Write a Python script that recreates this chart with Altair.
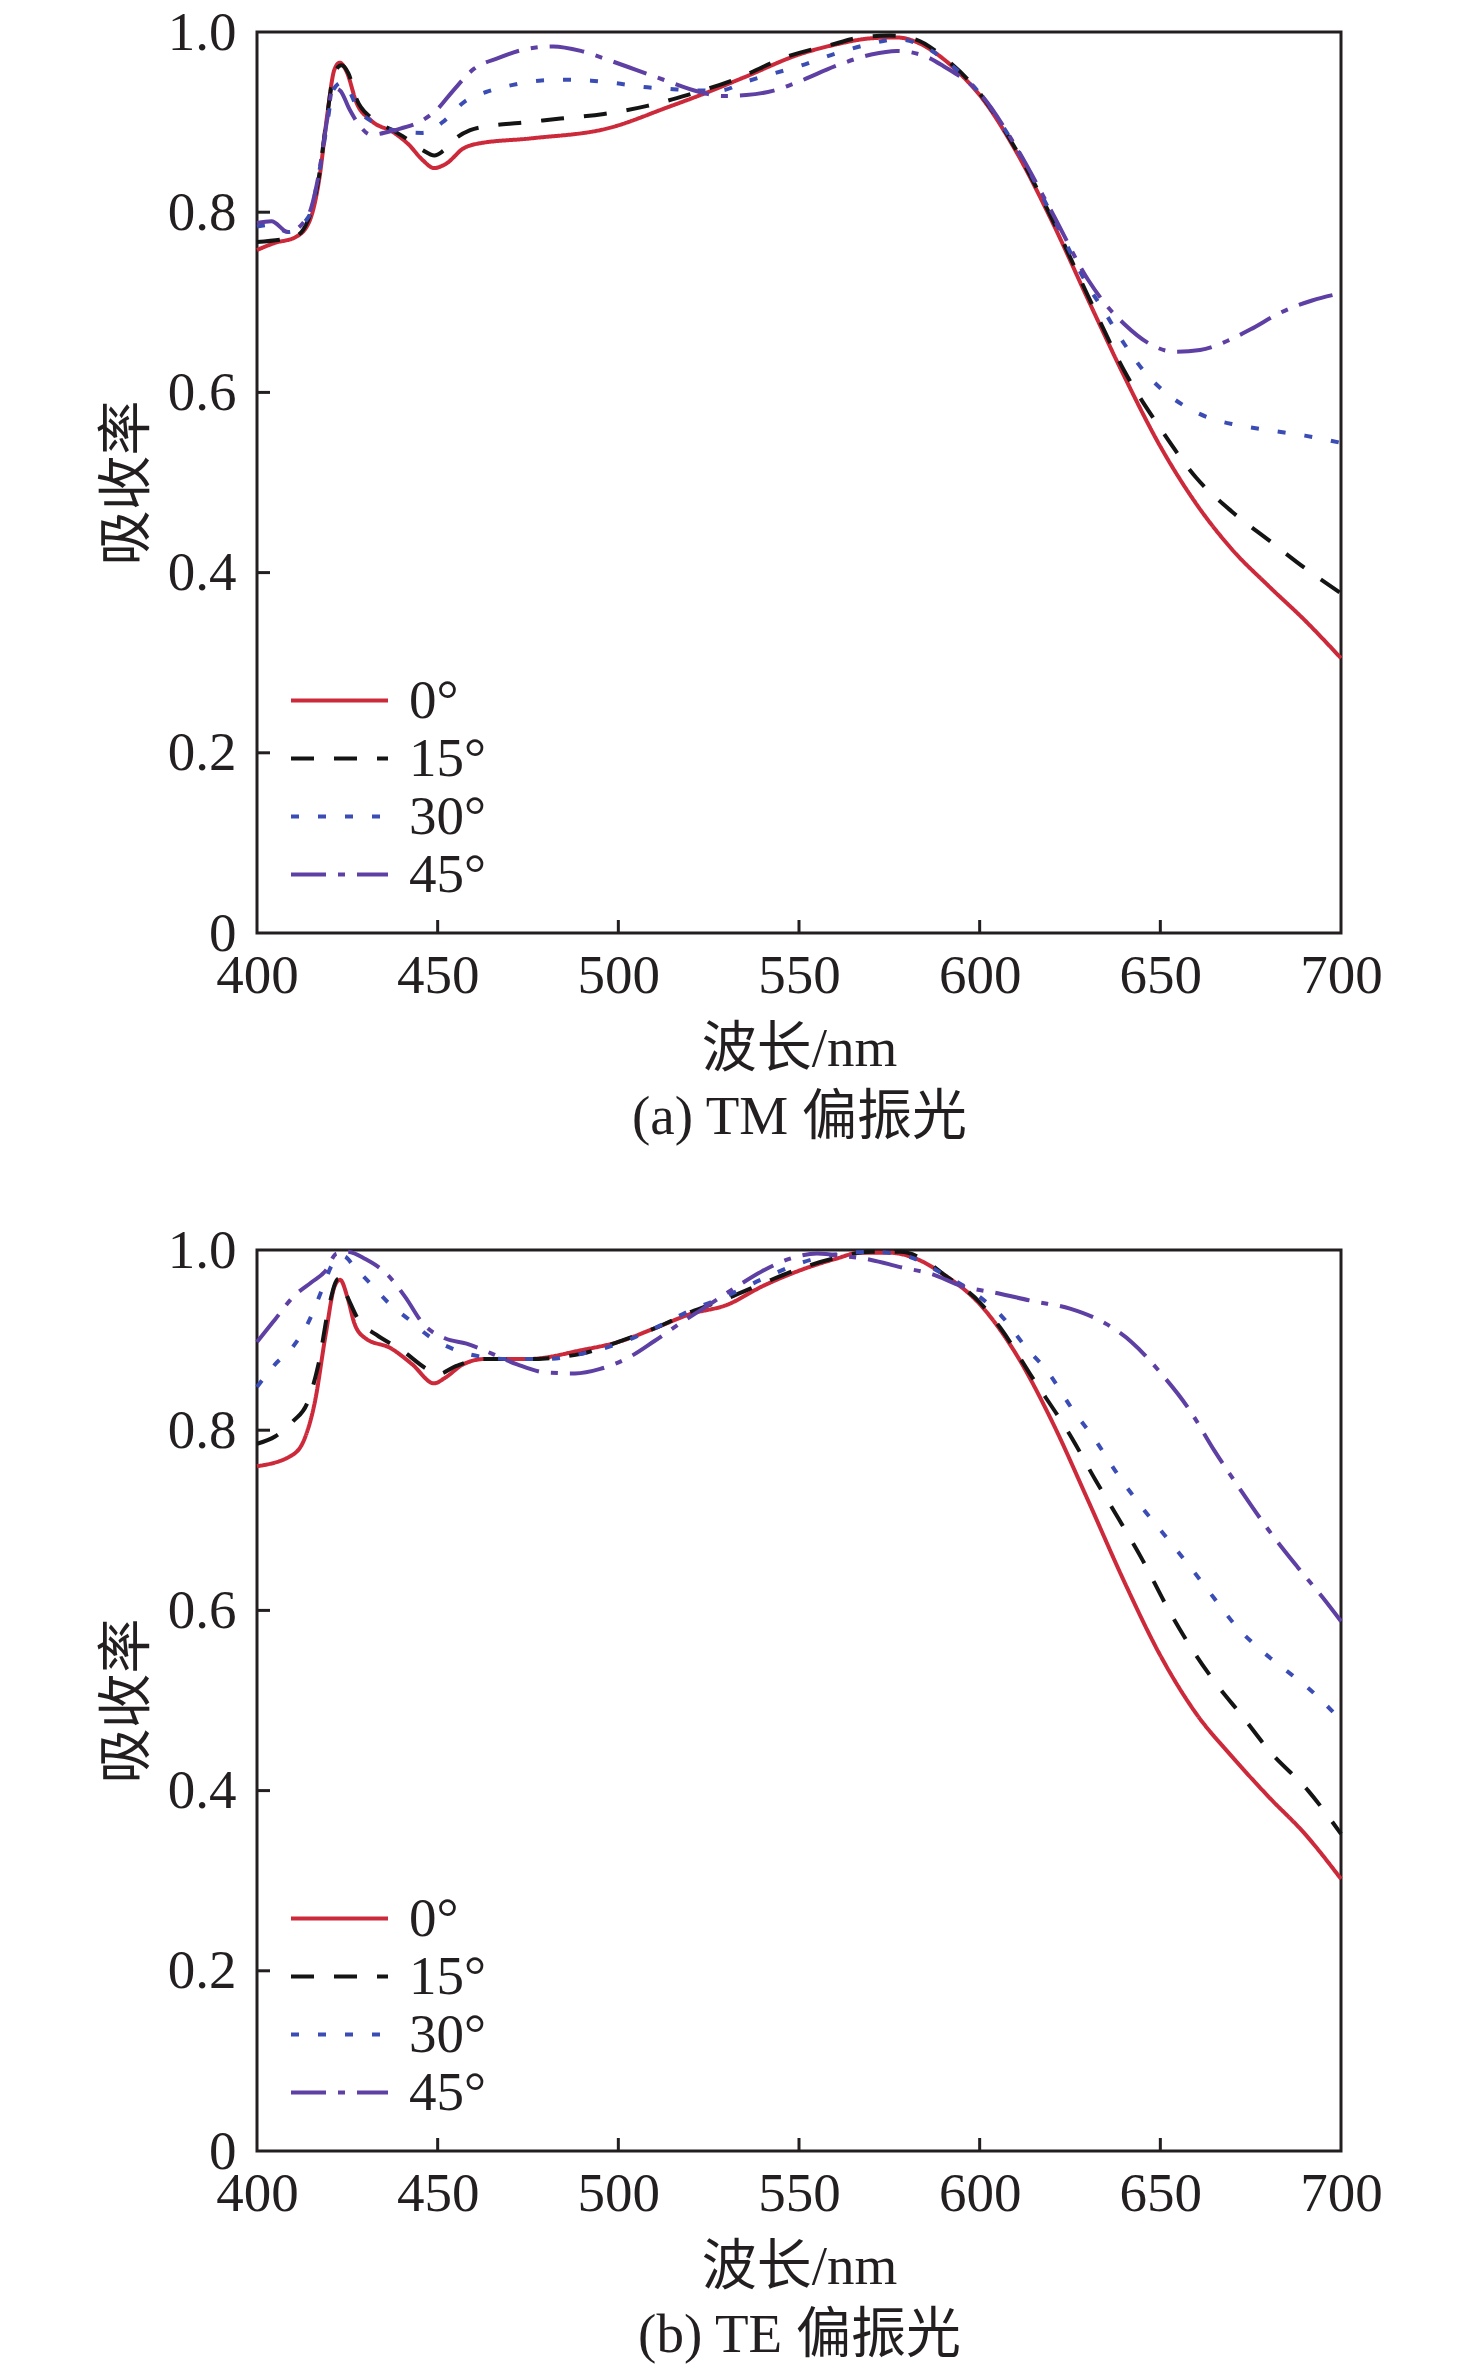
import altair as alt
import pandas as pd

ANGLES = ["0°", "15°", "30°", "45°"]
COLORS = ["#cc2a3b", "#141414", "#3b4db5", "#5e3fa3"]
DASHES = [[1, 0], [23, 20], [8, 19], [35, 12, 7, 12]]

X_TICKS = [400, 450, 500, 550, 600, 650, 700]
Y_TICKS = [0, 0.2, 0.4, 0.6, 0.8, 1.0]
INNER_X_TICKS = [450, 500, 550, 600, 650]
INNER_Y_TICKS = [0.2, 0.4, 0.6, 0.8]

# ---------------- (a) TM ----------------
tm0_wl = [400, 405, 410.5, 414.3, 417.2, 419.5, 421.4, 422.9, 424.8, 427.6, 431.5, 438, 442, 445.8, 449,
          452.4, 457.2, 461, 476, 497, 514, 524, 535, 550, 560, 570, 577, 583, 590, 595, 600, 610, 620,
          630, 640, 650, 660, 670, 680, 690, 700]
tm0_a = [0.758, 0.766, 0.772, 0.788, 0.836, 0.910, 0.958, 0.966, 0.956, 0.921, 0.902, 0.888, 0.875, 0.858,
         0.849, 0.854, 0.871, 0.876, 0.882, 0.893, 0.917, 0.932, 0.950, 0.975, 0.986, 0.993, 0.994, 0.988,
         0.970, 0.952, 0.930, 0.868, 0.790, 0.703, 0.618, 0.540, 0.476, 0.425, 0.385, 0.347, 0.305]

tm15_wl = [400, 410.5, 414, 417, 419.5, 421.4, 423.4, 425.3, 427.6, 431.5, 438, 442, 445.8, 449.1, 451.5,
           455, 459, 465, 472.5, 484, 496, 508, 519, 532, 547, 560, 567, 575, 582, 590, 600, 610, 620,
           630, 640, 650, 660, 670, 680, 690, 700]
tm15_a = [0.767, 0.773, 0.790, 0.836, 0.910, 0.955, 0.963, 0.954, 0.925, 0.905, 0.890, 0.880, 0.869, 0.863,
          0.868, 0.882, 0.891, 0.896, 0.899, 0.904, 0.909, 0.918, 0.930, 0.947, 0.973, 0.987, 0.994, 0.996,
          0.992, 0.972, 0.932, 0.870, 0.793, 0.707, 0.624, 0.560, 0.505, 0.467, 0.436, 0.405, 0.377]

tm30_wl = [400, 404, 408.6, 414.3, 417, 419.5, 421, 423.5, 425.5, 427.6, 432, 438, 445.8, 452, 457.2, 463.9,
           470.5, 478, 485, 492.5, 499.6, 507, 514, 521, 528, 535.4, 543, 550, 560, 570, 577, 585, 590,
           600, 610, 620, 630, 634, 640, 646, 652, 658, 664, 671, 680, 690, 700]
tm30_a = [0.784, 0.786, 0.778, 0.795, 0.840, 0.900, 0.935, 0.944, 0.935, 0.917, 0.900, 0.891, 0.888, 0.902,
          0.922, 0.934, 0.941, 0.946, 0.947, 0.946, 0.943, 0.939, 0.937, 0.935, 0.935, 0.945, 0.954, 0.962,
          0.976, 0.987, 0.992, 0.983, 0.970, 0.932, 0.872, 0.797, 0.718, 0.693, 0.654, 0.621, 0.598, 0.582,
          0.571, 0.564, 0.558, 0.552, 0.544]

tm45_wl = [400, 404, 408.6, 414, 417, 419.5, 421, 423, 425.5, 428.6, 431.5, 438, 445.8, 449.6, 454.3, 460,
           466.7, 474.4, 482, 489.6, 497.2, 504.9, 512.5, 522, 528.7, 535.4, 543, 550, 560, 570, 577, 585,
           590, 600, 610, 620, 630, 635, 640, 647, 654, 661, 669, 675, 683, 692, 700]
tm45_a = [0.788, 0.790, 0.778, 0.795, 0.840, 0.905, 0.938, 0.935, 0.915, 0.895, 0.886, 0.891, 0.902, 0.913,
          0.935, 0.959, 0.971, 0.981, 0.984, 0.979, 0.969, 0.958, 0.947, 0.934, 0.929, 0.930, 0.935, 0.945,
          0.962, 0.975, 0.979, 0.973, 0.962, 0.932, 0.873, 0.800, 0.725, 0.697, 0.676, 0.654, 0.645, 0.647,
          0.658, 0.670, 0.688, 0.702, 0.710]

# ---------------- (b) TE ----------------
te0_wl = [400, 410, 413, 416, 419, 421.5, 423, 425, 427, 430, 437, 443, 449, 452, 457, 463, 475, 490, 500,
          510, 520, 530, 540, 550, 560, 567, 575, 582, 590, 600, 610, 620, 630, 640, 650, 660, 670, 680,
          690, 700]
te0_a = [0.760, 0.773, 0.789, 0.831, 0.906, 0.960, 0.967, 0.948, 0.918, 0.902, 0.891, 0.873, 0.852, 0.858,
         0.873, 0.879, 0.879, 0.889, 0.898, 0.913, 0.929, 0.939, 0.960, 0.977, 0.990, 0.997, 0.997, 0.991,
         0.973, 0.940, 0.885, 0.810, 0.722, 0.632, 0.550, 0.485, 0.437, 0.393, 0.352, 0.302]

te15_wl = [400, 405, 410, 414, 417, 420, 422.5, 425, 428, 433, 440, 447, 450, 455, 462, 475, 490, 500, 510,
           520, 530, 540, 550, 560, 570, 578, 585, 590, 600, 606, 614, 625.7, 632, 638.7, 645.2, 651.7,
           658.3, 664.8, 672.6, 680.4, 690.9, 700]
te15_a = [0.785, 0.793, 0.810, 0.831, 0.873, 0.939, 0.968, 0.948, 0.923, 0.906, 0.889, 0.868, 0.862, 0.871,
          0.879, 0.879, 0.885, 0.898, 0.913, 0.931, 0.946, 0.963, 0.979, 0.991, 0.998, 0.998, 0.988, 0.973,
          0.942, 0.912, 0.862, 0.790, 0.745, 0.700, 0.655, 0.605, 0.560, 0.522, 0.483, 0.443, 0.400, 0.352]

te30_wl = [400, 405, 410, 414, 418, 421, 424, 427, 432, 437, 442, 447, 455, 463, 470, 480, 490, 500, 510,
           520, 530, 540, 550, 560, 570, 580, 590, 600, 606, 612.6, 619, 625.7, 632, 638.7, 645, 651.7,
           658.3, 664.8, 671.3, 677.8, 684.3, 690.9, 700]
te30_a = [0.848, 0.873, 0.893, 0.918, 0.956, 0.985, 0.993, 0.981, 0.960, 0.939, 0.923, 0.906, 0.889, 0.881,
          0.879, 0.879, 0.885, 0.896, 0.913, 0.933, 0.949, 0.968, 0.985, 0.995, 0.998, 0.993, 0.973, 0.948,
          0.927, 0.893, 0.864, 0.823, 0.789, 0.748, 0.714, 0.681, 0.648, 0.614, 0.581, 0.556, 0.535, 0.514,
          0.478]

te45_wl = [400, 405, 410, 415, 419, 422, 425, 430, 436, 441, 446, 452, 458, 465, 472, 480, 488, 495, 503,
           510, 518, 525, 533, 540, 548, 555, 563, 570, 578, 587, 595, 605, 615, 625, 635, 642, 650, 658,
           665, 672, 680, 688, 695, 700]
te45_a = [0.898, 0.923, 0.948, 0.964, 0.977, 0.996, 0.998, 0.990, 0.973, 0.948, 0.918, 0.902, 0.896, 0.885,
          0.873, 0.864, 0.863, 0.868, 0.881, 0.899, 0.921, 0.939, 0.960, 0.977, 0.991, 0.996, 0.993, 0.989,
          0.981, 0.973, 0.960, 0.952, 0.943, 0.935, 0.918, 0.898, 0.864, 0.823, 0.777, 0.735, 0.689, 0.648,
          0.614, 0.588]

W, H = 1084, 901
TXT = "#231f20"
NUM_FONT = "Liberation Serif"
CJK_FONT = "Liberation Serif, Noto Sans CJK SC"


def panel(wls, vals, caption):
    rows = []
    for ang, xs, ys in zip(ANGLES, wls, vals):
        for x, y in zip(xs, ys):
            rows.append({"wl": x, "abs": y, "angle": ang})
    df = pd.DataFrame(rows)
    xscale = alt.Scale(domain=[400, 700], nice=False, zero=False)
    yscale = alt.Scale(domain=[0, 1], nice=False)
    xaxis = alt.Axis(values=X_TICKS, format="d", title=["波长/nm", caption],
                     titlePadding=19, labelPadding=16, titleLineHeight=68,
                     labelFlush=False, labelOverlap=False, domain=False, ticks=False, grid=False)
    yaxis = alt.Axis(values=Y_TICKS, title="吸收率", titlePadding=12, labelPadding=21,
                     labelOverlap=False, domain=False, ticks=False, grid=False,
                     labelExpr="datum.value == 0 ? '0' : format(datum.value, '.1f')")
    leg = alt.Legend(
        title=None, orient="none", legendX=32, legendY=641, symbolType="stroke",
        symbolSize=9409, symbolStrokeWidth=4, clipHeight=55, rowPadding=2, padding=0,
        labelFont=NUM_FONT, labelFontSize=55, labelColor=TXT, labelOffset=19,
    )
    lines = alt.Chart(df).mark_line(strokeWidth=4, interpolate="monotone").encode(
        x=alt.X("wl:Q", scale=xscale, axis=xaxis),
        y=alt.Y("abs:Q", scale=yscale, axis=yaxis),
        color=alt.Color("angle:N", sort=ANGLES, scale=alt.Scale(domain=ANGLES, range=COLORS), legend=leg),
        strokeDash=alt.StrokeDash("angle:N", sort=ANGLES, scale=alt.Scale(domain=ANGLES, range=DASHES),
                                  legend=leg),
    )
    xt = alt.Chart(pd.DataFrame({"wl": INNER_X_TICKS})).mark_rule(strokeWidth=3, color=TXT).encode(
        x=alt.X("wl:Q", scale=xscale, axis=xaxis), y=alt.value(H), y2=alt.value(H - 13))
    yt = alt.Chart(pd.DataFrame({"abs": INNER_Y_TICKS})).mark_rule(strokeWidth=3, color=TXT).encode(
        y=alt.Y("abs:Q", scale=yscale, axis=yaxis), x=alt.value(0), x2=alt.value(13))
    return alt.layer(lines, xt, yt).properties(width=W, height=H)


pa = panel([tm0_wl, tm15_wl, tm30_wl, tm45_wl], [tm0_a, tm15_a, tm30_a, tm45_a], "(a) TM 偏振光")
pb = panel([te0_wl, te15_wl, te30_wl, te45_wl], [te0_a, te15_a, te30_a, te45_a], "(b) TE 偏振光")

chart = alt.vconcat(pa, pb, spacing=75).resolve_legend(
    color="independent", strokeDash="independent"
).resolve_scale(
    color="independent", strokeDash="independent"
).properties(
    padding={"left": 89, "top": -5, "right": 10, "bottom": 0}
).configure_view(
    stroke=TXT, strokeWidth=3
).configure_axis(
    labelFont=NUM_FONT, labelFontSize=55, labelColor=TXT,
    titleFont=CJK_FONT, titleFontSize=55, titleFontWeight="normal", titleColor=TXT,
)

chart.save("out.html", embed_options={"renderer": "svg", "actions": False})
